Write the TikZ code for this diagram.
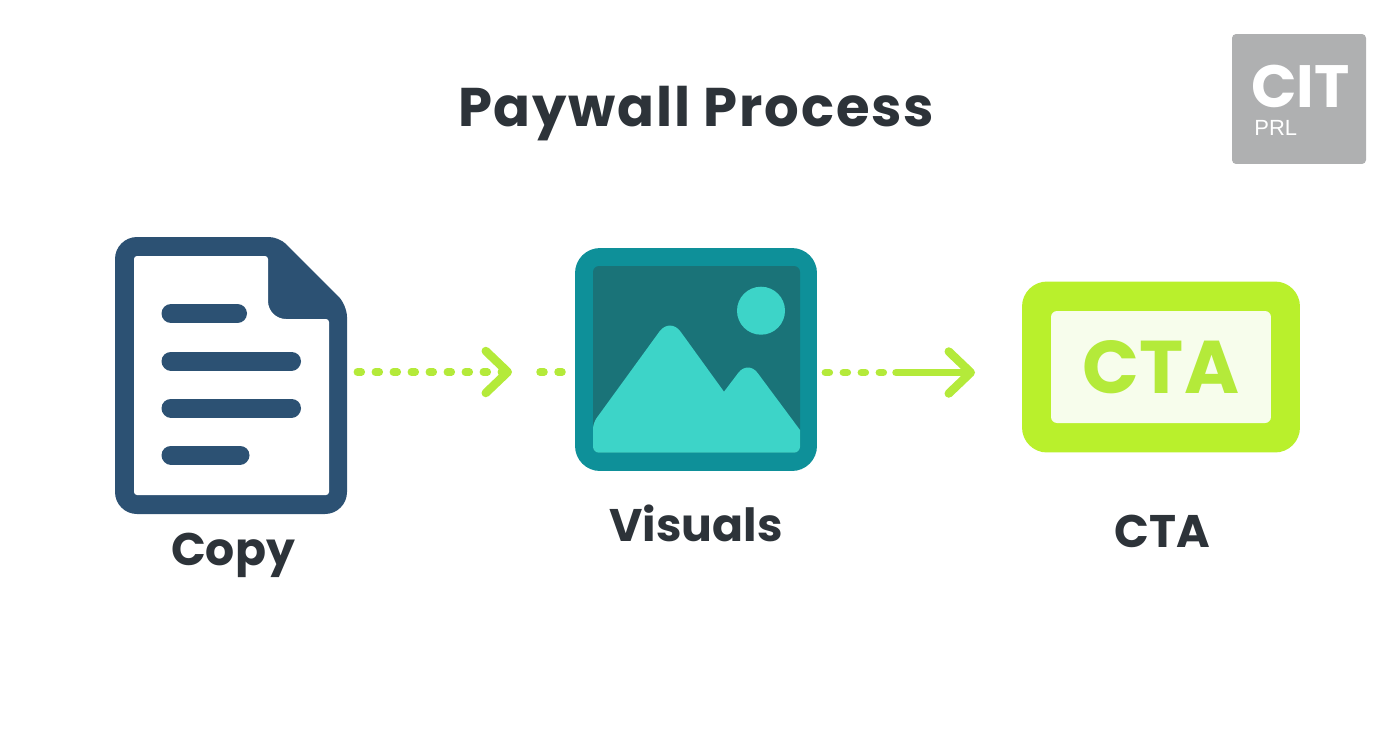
\documentclass[tikz,border=0pt]{standalone}
\usepackage{fontspec}
\setmainfont{Poppins}
\newfontfamily\titlefont{Poppins}[LetterSpace=3.3]
\newfontfamily\cardfont{Liberation Sans}
\usetikzlibrary{positioning, arrows.meta}
\definecolor{inkdark}{HTML}{2D3339}
\definecolor{docblue}{HTML}{2C5173}
\definecolor{tealouter}{HTML}{0E9099}
\definecolor{tealinner}{HTML}{1A7378}
\definecolor{teallight}{HTML}{3DD4C8}
\definecolor{limefill}{HTML}{B9F02C}
\definecolor{limepale}{HTML}{F7FDEC}
\definecolor{limetext}{HTML}{B4EA3A}
\definecolor{badgegray}{HTML}{AFB0B1}
\tikzstyle{title} = [
  text=inkdark,
  font=\titlefont\fontsize{31}{36}\selectfont\bfseries,
  inner sep=0pt
]
\tikzstyle{caption} = [
  text=inkdark,
  font=\fontsize{26}{30}\selectfont\bfseries,
  inner sep=0pt
]
\tikzstyle{icon} = [
  rectangle,
  inner sep=0pt
]
\tikzstyle{docline} = [
  docblue,
  line width=0.38cm,
  line cap=round
]
\tikzstyle{dotted link} = [
  limetext,
  line width=0.15cm,
  line cap=round,
  dash pattern=on 0.08cm off 0.28cm
]
\tikzstyle{solid link} = [
  limetext,
  line width=0.15cm,
  line cap=round
]
\tikzstyle{arrow} = [-{Straight Barb[round,length=0.44cm,width=0.84cm,line width=0.17cm]}]

\begin{document}
\begin{tikzpicture}[x=0.02cm, y=-0.02cm]
    \useasboundingbox (0,0) rectangle (1392,752);

    % Title and badge
    \node (title) [title] at (696,114) {Paywall Process};
    \node (badge) [icon, fill=badgegray, rounded corners=0.08cm, minimum width=2.68cm, minimum height=2.6cm] at (1299,99) {};
    \node (cit) [anchor=base west, inner sep=0pt, text=white, font=\fontsize{34}{38}\selectfont\bfseries] at (1251,107) {CIT};
    \node (prl) [anchor=base west, inner sep=0pt, text=white, font=\cardfont\fontsize{12.5}{15}\selectfont] at (1254,135) {PRL};

    % Main blocks
    \node (copy) [icon, minimum width=4.64cm, minimum height=5.54cm] at (231,375.5) {};
    \node (visuals) [icon, fill=tealouter, rounded corners=0.5cm, minimum width=4.84cm, minimum height=4.46cm] at (696,359.5) {};
    \node (cta) [icon, fill=limefill, rounded corners=0.5cm, minimum width=5.56cm, minimum height=3.42cm] at (1161,367) {};

    % Document
    \fill [docblue, rounded corners=0.44cm] (115,237) -- (115,514) -- (347,514)
      [rounded corners=0.24cm] -- (347,305) [rounded corners=0.2cm] -- (279,237) [rounded corners=0.44cm] -- cycle;
    \fill [white, rounded corners=0.06cm] (134,256) -- (134,495) -- (329,495) -- (329,319)
      [rounded corners=0.36cm] -- (268,319) [rounded corners=0.06cm] -- (268,256) -- cycle;
    \draw [docline] (171,313.5) -- (237.5,313.5);
    \draw [docline] (171,361) -- (291.5,361);
    \draw [docline] (171,408) -- (291.5,408);
    \draw [docline] (171,455) -- (240,455);

    % Picture
    \fill [tealinner, rounded corners=0.12cm] (593,266) rectangle (800,452.7);
    \fill [teallight] (761,310.7) circle [radius=24];
    \fill [teallight, rounded corners=0.12cm] (593,452.7) -- (593,423)
      [rounded corners=0.36cm] -- (670,317) [sharp corners] -- (724,391.7)
      [rounded corners=0.32cm] -- (748,360) [sharp corners] -- (800,430)
      [rounded corners=0.12cm] -- (800,452.7) -- cycle;

    % Button
    \node (button) [icon, fill=limepale, rounded corners=0.12cm, minimum width=4.4cm, minimum height=2.24cm,
      text=limetext, font=\fontsize{42.5}{46}\selectfont\bfseries] at (cta) {CTA};

    % Captions
    \node (copylabel) [caption, below=0.36cm of copy.south, xshift=0.04cm] {Copy};
    \node (visualslabel) [caption, below=0.66cm of visuals.south] {Visuals};
    \node (ctalabel) [caption, below=1.24cm of cta.south, xshift=0.02cm] {CTA};

    % Arrow ends
    \coordinate (tip1) at (512,372);
    \coordinate (resume1) at (540,372);
    \coordinate (split2) at (885,372.5);
    \coordinate (solid2) at (896,372.5);
    \coordinate (tip2) at (975,372.5);

    % Links
    \draw [dotted link, arrow, shorten <=0.2cm] (copy.east |- tip1) -- (tip1);
    \draw [dotted link] (resume1) -- (visuals.west |- resume1);
    \draw [dotted link, shorten <=0.16cm] (visuals.east |- split2) -- (split2);
    \draw [solid link, arrow] (solid2) -- (tip2);

\end{tikzpicture}
\end{document}
